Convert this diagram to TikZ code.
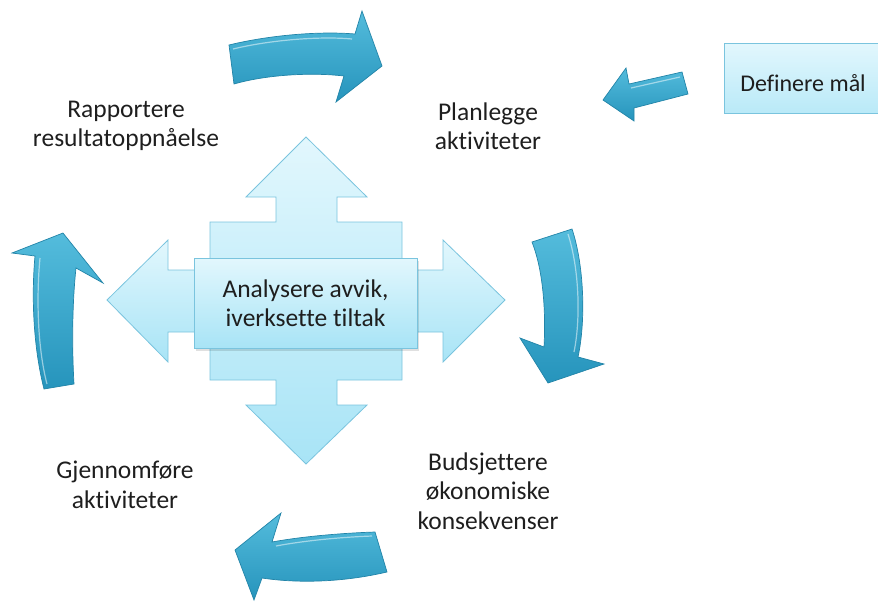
\documentclass[tikz,border=0pt]{standalone}
\usepackage{fontspec}
\setmainfont{Carlito}[Ligatures=NoCommon]
\definecolor{paletop}{RGB}{226,247,253}
\definecolor{palebot}{RGB}{168,228,246}
\definecolor{paleline}{RGB}{122,196,222}
\definecolor{tealtop}{RGB}{84,188,220}
\definecolor{tealbot}{RGB}{38,148,188}
\definecolor{tealline}{RGB}{34,132,168}
\definecolor{inktext}{RGB}{30,30,30}
\begin{document}
\begin{tikzpicture}[x=1pt,y=-1pt,
  lbl/.style={align=center,text=inktext,font=\fontsize{25.5}{29.5}\selectfont,inner sep=0pt},
  pale/.style={draw=paleline,line width=0.8pt,top color=paletop,bottom color=palebot},
  cyclearrow/.style={draw=tealline,line width=0.7pt,top color=tealtop,bottom color=tealbot},
  gloss/.style={draw=white,opacity=0.5,line width=1.2pt}
]
\useasboundingbox (0,0) rectangle (878,606);

% central four-way arrow
\path[pale] (306,137) -- (367,197) -- (337,197) -- (337,222) -- (402,222) -- (402,380)
  -- (337,380) -- (337,405) -- (367,405) -- (306,464) -- (246,405) -- (276,405)
  -- (276,380) -- (210,380) -- (210,222) -- (276,222) -- (276,197) -- (246,197) -- cycle;
\path[pale] (107,300) -- (168,240) -- (168,270) -- (443,270) -- (443,240) -- (505,300)
  -- (443,362) -- (443,332) -- (168,332) -- (168,362) -- cycle;
\fill[black,opacity=0.12] (196,261) rectangle (419,351);
\node[pale,minimum width=223pt,minimum height=90pt,inner sep=0pt] (hub) at (305.5,303) {};
\node[lbl] (hubtxt) at (hub.center) {Analysere avvik,\\iverksette tiltak};

% goal box at the right edge
\fill[top color=paletop,bottom color=palebot!80!white] (724,43) rectangle (878,113);
\draw[draw=paleline,line width=0.8pt] (878,43) -- (724,43) -- (724,113) -- (878,113);
\node[lbl,font=\fontsize{24}{28}\selectfont] (goal) at (803,83) {Definere mål};

% step labels
\node[lbl] (plan) at (488,126) {Planlegge\\aktiviteter};
\node[lbl] (budget) at (488,491) {Budsjettere\\økonomiske\\konsekvenser};
\node[lbl] (exec) at (125,485) {Gjennomføre\\aktiviteter};
\node[lbl] (report) at (126,126) {Rapportere\\resultatoppnåelse};

% curved cycle arrows
\path[cyclearrow] (229,45) .. controls (270,35) and (320,31) .. (355,34) -- (362,11) -- (382,66)
  -- (336,102) -- (344,76) .. controls (310,72) and (265,75) .. (234,84) -- cycle;
\draw[gloss] (233,49) .. controls (270,40) and (320,36) .. (352,39);

\path[cyclearrow] (532,242) -- (572,229) .. controls (584,265) and (586,320) .. (578,357)
  -- (604,364) -- (548,383) -- (520,338) -- (544,347)
  .. controls (546,310) and (543,270) .. (532,242) -- cycle;
\draw[gloss] (568,234) .. controls (579,268) and (581,318) .. (574,352);

\path[cyclearrow] (375,532) -- (387,572) .. controls (340,583) and (295,583) .. (262,578)
  -- (254,600) -- (235,550) -- (281,513) -- (272,542)
  .. controls (305,536) and (345,533) .. (375,532) -- cycle;
\draw[gloss] (276,546) .. controls (308,540) and (345,537) .. (372,536);

\path[cyclearrow] (63,233) -- (103,283) -- (76,268) .. controls (72,305) and (72,350) .. (74,384)
  -- (44,389) .. controls (34,350) and (31,300) .. (35,256) -- (12,253) -- cycle;
\draw[gloss] (40,258) .. controls (36,300) and (38,350) .. (47,384);

\path[cyclearrow] (603,100) -- (626,68) -- (629,84) -- (682,72) -- (688,94) -- (634,108)
  -- (634,121) -- cycle;
\draw[gloss] (631,88) -- (680,77);
\end{tikzpicture}
\end{document}
